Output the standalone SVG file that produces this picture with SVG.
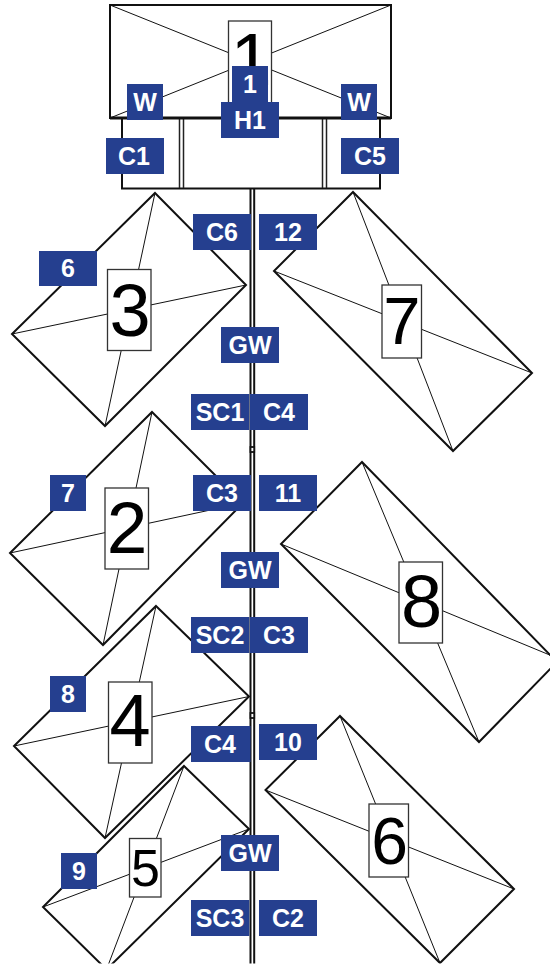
<svg xmlns="http://www.w3.org/2000/svg" width="550" height="965" viewBox="0 0 550 965">
<style>
.bg{fill:#fff}
.o{fill:#fff;stroke:#111;stroke-width:2}
.x{fill:none;stroke:#111;stroke-width:1}
.d{fill:none;stroke:#222;stroke-width:1.500}
.lb{fill:#fff;stroke:#333;stroke-width:1.300}
.n{font-family:"Liberation Sans",Arial,sans-serif;text-anchor:middle;fill:#000}
.t{fill:#253f8f}
.tt{font-family:"Liberation Sans",Arial,sans-serif;font-weight:bold;font-size:25px;text-anchor:middle;fill:#fff}
.p{fill:none;stroke:#111;stroke-width:2}
.j{fill:#fff;stroke:#111;stroke-width:1.800}
</style>
<rect class="bg" width="550" height="965"/>
<g id="node-1">
<rect class="o" x="110" y="5" width="281" height="113"/>
<path class="x" d="M110 5L391 118M391 5L110 118"/>
<rect class="lb" x="228.500" y="21" width="43" height="85"/>
<text class="n" x="251" y="85" font-size="74">1</text>
</g>
<g id="node-frame">
<path class="o" d="M122 118V188.500H380V118"/>
<path class="d" d="M179.500 119V188M183.500 119V188M322.500 119V188M326.500 119V188"/>
<path d="M110 118H391" stroke="#111" stroke-width="3" fill="none"/>
</g>
<g id="connectors">
<path class="p" d="M250.500 188V965M254.200 188V965"/>
<rect class="j" x="250.500" y="447" width="3.700" height="5"/>
<rect class="j" x="250.500" y="713" width="3.700" height="5"/>
</g>
<g id="node-3">
<path class="o" d="M155 193L246 285L105 426L12 334Z"/>
<path class="x" d="M155 193L105 426M12 334L246 285"/>
<rect class="lb" x="107.500" y="269.500" width="43.500" height="81"/>
<text class="n" x="130" y="335.500" font-size="74">3</text>
</g>
<g id="node-7">
<path class="o" d="M353 192L532 373L453 451L274 271Z"/>
<path class="x" d="M353 192L453 451M274 271L532 373"/>
<rect class="lb" x="382" y="285" width="39.500" height="73"/>
<text class="n" x="402" y="344.300" font-size="67">7</text>
</g>
<g id="node-2">
<path class="o" d="M152 412L243 503L103 645L10 553Z"/>
<path class="x" d="M152 412L103 645M10 553L243 503"/>
<rect class="lb" x="105" y="488" width="43.500" height="81"/>
<text class="n" x="127" y="552.500" font-size="73">2</text>
</g>
<g id="node-8">
<path class="o" d="M362 462L557 662L479 742L281 544Z"/>
<path class="x" d="M362 462L479 742M281 544L557 658"/>
<rect class="lb" x="399" y="562" width="43.500" height="81"/>
<text class="n" x="421.500" y="626.500" font-size="74">8</text>
</g>
<g id="node-4">
<path class="o" d="M156 606L249 696.500L105 838L14 746Z"/>
<path class="x" d="M156 606L105 838M14 746L249 696.500"/>
<rect class="lb" x="108.500" y="682" width="43.500" height="81"/>
<text class="n" x="130" y="746.300" font-size="74">4</text>
</g>
<g id="node-6">
<path class="o" d="M340 716L514 889L440 963L265.500 790Z"/>
<path class="x" d="M340 716L440 963M265.500 790L514 889"/>
<rect class="lb" x="369" y="804" width="39.500" height="73"/>
<text class="n" x="389.500" y="863.500" font-size="66">6</text>
</g>
<g id="node-5">
<path class="o" d="M184 766L249 829L106.500 969.500L43 907Z"/>
<path class="x" d="M184 766L106.500 969.500M43 907L249 829"/>
<rect class="lb" x="129.500" y="838.500" width="31.500" height="58.500"/>
<text class="n" x="145.500" y="886" font-size="52">5</text>
</g>
<rect id="bottom-margin" class="bg" x="0" y="963.500" width="550" height="2"/>
<g id="tags">
<g id="tag-1"><rect class="t" x="232" y="66" width="36" height="36"/><text class="tt" x="250" y="92.500">1</text></g>
<g id="tag-w1"><rect class="t" x="127" y="84" width="36" height="36"/><text class="tt" x="145" y="110.500">W</text></g>
<g id="tag-w2"><rect class="t" x="341" y="84" width="36" height="36"/><text class="tt" x="359" y="110.500">W</text></g>
<g id="tag-h1"><rect class="t" x="221" y="102" width="58" height="36"/><text class="tt" x="250" y="128.500">H1</text></g>
<g id="tag-c1"><rect class="t" x="106" y="138" width="58" height="36"/><text class="tt" x="134" y="164.500">C1</text></g>
<g id="tag-c5"><rect class="t" x="341" y="138" width="58" height="36"/><text class="tt" x="370" y="164.500">C5</text></g>
<g id="tag-6"><rect class="t" x="39" y="251" width="58" height="35"/><text class="tt" x="68" y="277">6</text></g>
<g id="tag-c6"><rect class="t" x="193" y="214" width="58" height="36"/><text class="tt" x="222" y="240.500">C6</text></g>
<g id="tag-12"><rect class="t" x="259" y="214" width="58" height="36"/><text class="tt" x="288" y="240.500">12</text></g>
<g id="tag-gw1"><rect class="t" x="221" y="327" width="58" height="36"/><text class="tt" x="250" y="353.500">GW</text></g>
<g id="tag-sc1"><rect class="t" x="191" y="394" width="58.300" height="36"/><text class="tt" x="220" y="420.500">SC1</text></g>
<g id="tag-c4a"><rect class="t" x="250" y="394" width="58" height="36"/><text class="tt" x="279" y="420.500">C4</text></g>
<g id="tag-7"><rect class="t" x="50" y="475" width="36" height="36"/><text class="tt" x="68" y="501.500">7</text></g>
<g id="tag-c3a"><rect class="t" x="193" y="475" width="58" height="36"/><text class="tt" x="222" y="501.500">C3</text></g>
<g id="tag-11"><rect class="t" x="259" y="475" width="58" height="36"/><text class="tt" x="288" y="501.500">11</text></g>
<g id="tag-gw2"><rect class="t" x="221" y="552" width="58" height="36"/><text class="tt" x="250" y="578.500">GW</text></g>
<g id="tag-sc2"><rect class="t" x="191" y="617" width="58.300" height="36"/><text class="tt" x="220" y="643.500">SC2</text></g>
<g id="tag-c3b"><rect class="t" x="250" y="617" width="58" height="36"/><text class="tt" x="279" y="643.500">C3</text></g>
<g id="tag-8"><rect class="t" x="50" y="676" width="36" height="36"/><text class="tt" x="68" y="702.500">8</text></g>
<g id="tag-c4b"><rect class="t" x="191" y="726" width="59.500" height="36"/><text class="tt" x="220" y="752.500">C4</text></g>
<g id="tag-10"><rect class="t" x="259" y="724" width="58" height="36"/><text class="tt" x="288" y="750.500">10</text></g>
<g id="tag-gw3"><rect class="t" x="221" y="835" width="58" height="36"/><text class="tt" x="250" y="861.500">GW</text></g>
<g id="tag-9"><rect class="t" x="61" y="853" width="36" height="36"/><text class="tt" x="79" y="879.500">9</text></g>
<g id="tag-sc3"><rect class="t" x="191" y="900" width="58.300" height="36"/><text class="tt" x="220" y="926.500">SC3</text></g>
<g id="tag-c2"><rect class="t" x="259" y="900" width="58" height="36"/><text class="tt" x="288" y="926.500">C2</text></g>
</g>
</svg>
